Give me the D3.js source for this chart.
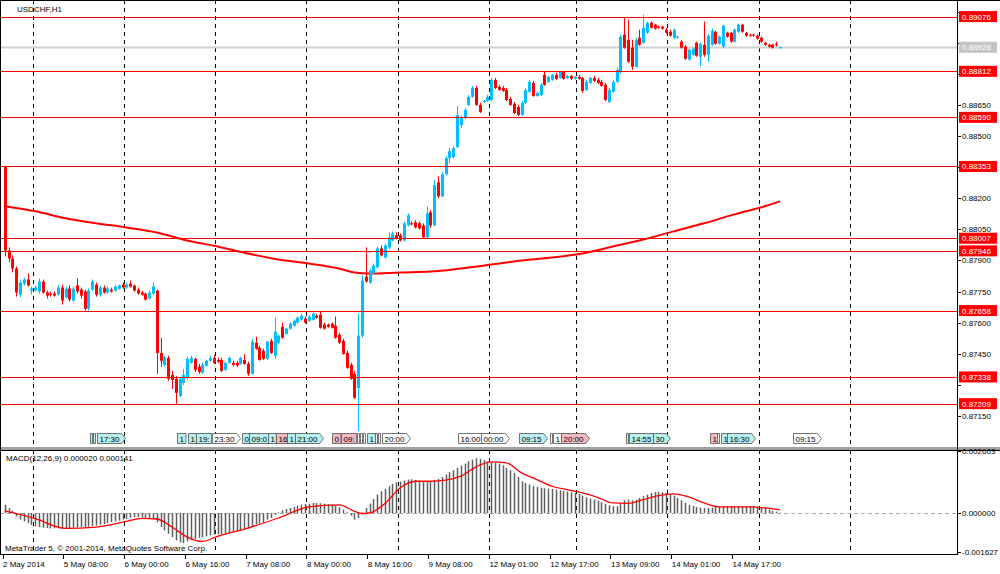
<!DOCTYPE html>
<html>
<head>
<meta charset="utf-8">
<script src="https://d3js.org/d3.v7.min.js"></script>
<style>
body { margin: 0; background: #fff; }
svg { display: block; font-family: "Liberation Sans", Arial, sans-serif; }
</style>
</head>
<body>
<script>
// USDCHF H1 candles, 2 May 2014 16:00 .. 15 May 2014 04:00 (bar index 0..204)
var opens = [0.88350,0.87948,0.87909,0.87861,0.87735,0.87788,0.87808,0.87754,0.87754,0.87750,0.87798,0.87745,0.87740,0.87740,0.87735,0.87769,0.87721,0.87764,0.87706,0.87779,
0.87759,0.87750,0.87667,0.87759,0.87783,0.87735,0.87769,0.87745,0.87759,0.87754,0.87764,0.87783,0.87769,0.87788,0.87779,0.87759,0.87745,0.87740,0.87716,0.87740,
0.87754,0.87454,0.87396,0.87430,0.87348,0.87329,0.87246,0.87309,0.87333,0.87406,0.87425,0.87387,0.87358,0.87392,0.87416,0.87430,0.87420,0.87420,0.87372,0.87406,
0.87406,0.87406,0.87401,0.87420,0.87401,0.87353,0.87503,0.87479,0.87464,0.87425,0.87512,0.87440,0.87503,0.87580,0.87546,0.87571,0.87585,0.87600,0.87614,0.87619,
0.87609,0.87614,0.87633,0.87638,0.87590,0.87590,0.87595,0.87585,0.87541,0.87512,0.87454,0.87396,0.87353,0.87285,0.87537,0.87822,0.87793,0.87837,0.87866,0.87958,
0.87914,0.87963,0.87996,0.88021,0.88021,0.87996,0.88069,0.88079,0.88084,0.88079,0.88069,0.88011,0.88132,0.88069,0.88277,0.88209,0.88316,0.88393,0.88398,0.88447,
0.88553,0.88587,0.88650,0.88689,0.88732,0.88650,0.88664,0.88669,0.88674,0.88771,0.88737,0.88732,0.88722,0.88679,0.88655,0.88640,0.88601,0.88660,0.88713,0.88756,
0.88693,0.88698,0.88795,0.88761,0.88771,0.88795,0.88780,0.88810,0.88780,0.88790,0.88776,0.88785,0.88780,0.88722,0.88756,0.88780,0.88771,0.88761,0.88747,0.88664,
0.88713,0.88761,0.88810,0.88989,0.88964,0.88926,0.88834,0.88974,0.88950,0.88998,0.89047,0.89037,0.89027,0.89027,0.89013,0.89003,0.88974,0.88974,0.88955,0.88931,
0.88868,0.88892,0.88950,0.88882,0.88940,0.88892,0.88940,0.89003,0.88945,0.88931,0.88998,0.88998,0.88955,0.89003,0.89037,0.88998,0.88989,0.88989,0.88984,0.88974,
0.88950,0.88940,0.88940,0.88945,0.88926];
var highs = [0.88355,0.87963,0.87924,0.87871,0.87808,0.87817,0.87837,0.87774,0.87779,0.87813,0.87808,0.87754,0.87750,0.87750,0.87779,0.87783,0.87774,0.87779,0.87774,0.87813,
0.87769,0.87759,0.87764,0.87808,0.87793,0.87779,0.87779,0.87774,0.87769,0.87779,0.87783,0.87793,0.87793,0.87803,0.87783,0.87769,0.87754,0.87745,0.87754,0.87793,
0.87759,0.87527,0.87440,0.87440,0.87367,0.87343,0.87338,0.87377,0.87435,0.87440,0.87430,0.87401,0.87406,0.87420,0.87440,0.87445,0.87430,0.87430,0.87411,0.87435,
0.87416,0.87416,0.87435,0.87449,0.87411,0.87522,0.87532,0.87488,0.87474,0.87512,0.87522,0.87624,0.87541,0.87600,0.87575,0.87600,0.87614,0.87629,0.87643,0.87629,
0.87638,0.87648,0.87643,0.87653,0.87600,0.87595,0.87600,0.87629,0.87551,0.87522,0.87464,0.87406,0.87367,0.87643,0.87827,0.87963,0.87861,0.87885,0.87967,0.87972,
0.87982,0.88035,0.88040,0.88035,0.88030,0.88088,0.88127,0.88088,0.88093,0.88088,0.88079,0.88161,0.88142,0.88287,0.88306,0.88326,0.88403,0.88442,0.88451,0.88645,
0.88597,0.88635,0.88698,0.88742,0.88742,0.88660,0.88674,0.88698,0.88780,0.88780,0.88747,0.88742,0.88732,0.88689,0.88664,0.88650,0.88669,0.88732,0.88771,0.88766,
0.88713,0.88756,0.88814,0.88790,0.88800,0.88805,0.88814,0.88814,0.88795,0.88795,0.88790,0.88795,0.88785,0.88771,0.88785,0.88790,0.88780,0.88771,0.88756,0.88732,
0.88771,0.88829,0.88989,0.89071,0.89061,0.88964,0.88974,0.89013,0.89085,0.89052,0.89052,0.89042,0.89032,0.89032,0.89022,0.89013,0.89018,0.88984,0.88964,0.88940,
0.88921,0.88926,0.88955,0.88950,0.89052,0.88993,0.89018,0.89008,0.88984,0.89037,0.89003,0.89003,0.89018,0.89042,0.89042,0.89003,0.88993,0.88993,0.88989,0.88979,
0.88955,0.88945,0.88945,0.88955,0.88931];
var lows = [0.87919,0.87890,0.87842,0.87725,0.87721,0.87779,0.87774,0.87735,0.87750,0.87740,0.87740,0.87716,0.87725,0.87725,0.87730,0.87687,0.87716,0.87701,0.87701,0.87740,
0.87716,0.87658,0.87658,0.87754,0.87725,0.87725,0.87740,0.87740,0.87745,0.87750,0.87759,0.87764,0.87764,0.87769,0.87750,0.87735,0.87730,0.87706,0.87711,0.87730,
0.87353,0.87387,0.87387,0.87319,0.87280,0.87208,0.87241,0.87299,0.87324,0.87401,0.87362,0.87353,0.87353,0.87387,0.87411,0.87401,0.87406,0.87362,0.87367,0.87401,
0.87392,0.87387,0.87396,0.87396,0.87343,0.87348,0.87469,0.87416,0.87420,0.87420,0.87449,0.87425,0.87493,0.87522,0.87541,0.87566,0.87580,0.87595,0.87609,0.87595,
0.87604,0.87609,0.87619,0.87571,0.87566,0.87575,0.87571,0.87522,0.87498,0.87445,0.87377,0.87324,0.87232,0.87077,0.87527,0.87793,0.87788,0.87832,0.87861,0.87919,
0.87909,0.87953,0.87992,0.88001,0.87992,0.87992,0.88064,0.88069,0.88054,0.88050,0.88006,0.88006,0.88059,0.88064,0.88200,0.88205,0.88311,0.88369,0.88393,0.88442,
0.88538,0.88582,0.88645,0.88684,0.88645,0.88611,0.88660,0.88664,0.88669,0.88727,0.88718,0.88713,0.88669,0.88645,0.88606,0.88597,0.88597,0.88655,0.88708,0.88689,
0.88689,0.88693,0.88742,0.88756,0.88766,0.88771,0.88776,0.88771,0.88776,0.88771,0.88771,0.88771,0.88708,0.88718,0.88751,0.88761,0.88751,0.88737,0.88669,0.88660,
0.88708,0.88756,0.88800,0.88921,0.88853,0.88819,0.88829,0.88935,0.88945,0.88993,0.89018,0.89013,0.89018,0.89013,0.88993,0.88979,0.88969,0.88969,0.88921,0.88868,
0.88863,0.88887,0.88882,0.88834,0.88882,0.88858,0.88935,0.88940,0.88940,0.88926,0.88974,0.88950,0.88950,0.88998,0.88998,0.88979,0.88979,0.88979,0.88964,0.88950,
0.88935,0.88926,0.88921,0.88931,0.88921];
var closes = [0.87948,0.87909,0.87861,0.87745,0.87793,0.87808,0.87779,0.87764,0.87769,0.87798,0.87745,0.87730,0.87735,0.87730,0.87769,0.87706,0.87764,0.87711,0.87764,0.87750,
0.87730,0.87667,0.87754,0.87798,0.87735,0.87769,0.87745,0.87764,0.87750,0.87774,0.87779,0.87769,0.87783,0.87774,0.87754,0.87740,0.87735,0.87711,0.87745,0.87774,
0.87454,0.87416,0.87435,0.87329,0.87324,0.87261,0.87329,0.87348,0.87425,0.87430,0.87372,0.87362,0.87396,0.87416,0.87430,0.87406,0.87411,0.87367,0.87406,0.87430,
0.87396,0.87392,0.87430,0.87401,0.87353,0.87508,0.87474,0.87420,0.87425,0.87508,0.87454,0.87556,0.87537,0.87527,0.87571,0.87595,0.87609,0.87624,0.87633,0.87600,
0.87629,0.87643,0.87624,0.87575,0.87571,0.87580,0.87575,0.87527,0.87503,0.87449,0.87382,0.87329,0.87237,0.87537,0.87803,0.87798,0.87851,0.87875,0.87958,0.87924,
0.87972,0.88011,0.88030,0.88006,0.87996,0.88079,0.88117,0.88074,0.88059,0.88054,0.88011,0.88127,0.88069,0.88263,0.88209,0.88316,0.88393,0.88427,0.88442,0.88601,
0.88587,0.88626,0.88689,0.88732,0.88650,0.88616,0.88669,0.88689,0.88771,0.88732,0.88722,0.88718,0.88674,0.88650,0.88611,0.88601,0.88660,0.88722,0.88761,0.88693,
0.88708,0.88747,0.88747,0.88785,0.88795,0.88776,0.88810,0.88776,0.88790,0.88776,0.88785,0.88776,0.88718,0.88761,0.88780,0.88766,0.88756,0.88742,0.88674,0.88722,
0.88761,0.88819,0.88979,0.88926,0.88858,0.88834,0.88964,0.88940,0.89022,0.89047,0.89022,0.89018,0.89022,0.89018,0.88998,0.88984,0.89013,0.88979,0.88926,0.88872,
0.88916,0.88921,0.88887,0.88945,0.88892,0.88984,0.89008,0.88945,0.88979,0.89032,0.88979,0.88955,0.89013,0.89037,0.89003,0.88984,0.88984,0.88984,0.88969,0.88955,
0.88940,0.88931,0.88926,0.88940,0.88928];

// moving average, read at every 8th bar or so
var maBars = [0,8,16,24,32,40,48,56,64,72,80,88,92,96,104,112,120,128,136,144,152,160,168,176,184,192,200,204];
var maValues = [0.88161,0.88137,0.88103,0.88079,0.88059,0.88035,0.87996,0.87967,0.87933,0.87904,0.87885,0.87861,0.87842,0.87837,0.87842,0.87846,0.87861,0.87880,0.87900,0.87914,0.87933,0.87967,0.88001,0.88040,0.88079,0.88122,0.88161,0.88185];

// MACD(12,26,9) main values (histogram), one per bar
var macdMain = [357e-6,217e-6,105e-6,-133e-6,-273e-6,-343e-6,-413e-6,-497e-6,-553e-6,-581e-6,-609e-6,-623e-6,-637e-6,-637e-6,-637e-6,-623e-6,-623e-6,-623e-6,-609e-6,-595e-6,
-581e-6,-581e-6,-567e-6,-539e-6,-511e-6,-483e-6,-455e-6,-413e-6,-371e-6,-343e-6,-315e-6,-273e-6,-245e-6,-189e-6,-161e-6,-161e-6,-175e-6,-203e-6,-217e-6,-245e-6,
-385e-6,-581e-6,-721e-6,-861e-6,-1001e-6,-1141e-6,-1225e-6,-1253e-6,-1183e-6,-1113e-6,-1071e-6,-1029e-6,-1001e-6,-973e-6,-931e-6,-903e-6,-889e-6,-875e-6,-847e-6,-805e-6,
-777e-6,-749e-6,-707e-6,-665e-6,-637e-6,-525e-6,-483e-6,-441e-6,-399e-6,-273e-6,-203e-6,-63e-6,35e-6,119e-6,175e-6,217e-6,259e-6,315e-6,357e-6,385e-6,
399e-6,427e-6,427e-6,413e-6,399e-6,385e-6,357e-6,315e-6,245e-6,147e-6,35e-6,-105e-6,-273e-6,-203e-6,35e-6,217e-6,399e-6,595e-6,777e-6,917e-6,
1015e-6,1127e-6,1225e-6,1295e-6,1323e-6,1365e-6,1407e-6,1421e-6,1393e-6,1365e-6,1337e-6,1337e-6,1337e-6,1379e-6,1435e-6,1519e-6,1617e-6,1715e-6,1799e-6,1897e-6,
1995e-6,2079e-6,2177e-6,2247e-6,2303e-6,2275e-6,2219e-6,2163e-6,2135e-6,2107e-6,2079e-6,1995e-6,1897e-6,1799e-6,1687e-6,1519e-6,1337e-6,1267e-6,1197e-6,1127e-6,
1099e-6,1071e-6,1043e-6,1029e-6,1015e-6,987e-6,959e-6,931e-6,903e-6,875e-6,847e-6,805e-6,735e-6,665e-6,609e-6,567e-6,511e-6,455e-6,385e-6,329e-6,
287e-6,287e-6,427e-6,539e-6,567e-6,539e-6,567e-6,637e-6,707e-6,777e-6,847e-6,889e-6,889e-6,875e-6,847e-6,805e-6,735e-6,637e-6,539e-6,427e-6,
357e-6,301e-6,259e-6,231e-6,217e-6,217e-6,231e-6,245e-6,259e-6,273e-6,287e-6,287e-6,287e-6,287e-6,287e-6,287e-6,287e-6,287e-6,273e-6,245e-6,
203e-6,147e-6,105e-6,63e-6,20e-6];

// MACD signal line, read at knots
var signalBars = [0,8,16,24,32,36,40,44,48,52,56,64,72,80,88,92,94,96,100,104,108,112,116,120,124,128,132,136,140,144,148,152,156,160,164,168,172,176,180,184,188,192,196,200,204];
var signalValues = [91e-6,-231e-6,-637e-6,-581e-6,-343e-6,-217e-6,-245e-6,-581e-6,-1001e-6,-1183e-6,-973e-6,-623e-6,-203e-6,259e-6,343e-6,77e-6,-21e-6,7e-6,399e-6,1057e-6,1337e-6,1337e-6,1379e-6,1547e-6,1939e-6,2149e-6,2107e-6,1687e-6,1407e-6,1127e-6,987e-6,847e-6,665e-6,427e-6,413e-6,567e-6,735e-6,805e-6,679e-6,427e-6,259e-6,259e-6,259e-6,217e-6,141e-6];

// horizontal levels and current price
var levels = [0.89076,0.88812,0.88590,0.88353,0.88007,0.87946,0.87658,0.87338,0.87209];
var lastPrice = 0.88928;

// axes
var priceTicks = [0.89100,0.88950,0.88800,0.88650,0.88500,0.88350,0.88200,0.88050,0.87900,0.87750,0.87600,0.87450,0.87300,0.87150];
var macdTicks = [0.002603,0,-0.001627];
var macdTickLabels = ["0.002603","0.000000","-0.001627"];
var timeBars = [0,16,32,48,64,80,96,112,128,144,160,176,192];
var timeLabels = ["2 May 2014","5 May 08:00","6 May 00:00","6 May 16:00","7 May 08:00","8 May 00:00","8 May 16:00","9 May 08:00","12 May 01:00","12 May 17:00","13 May 09:00","14 May 01:00","14 May 17:00"];
var gridBars = [8,32,56,80,104,128,151,175,199,223];

// calendar events along the bottom of the price window
var eventBars = [22.4,23.2,24.3,45.3,48.2,50.3,54.5,62.4,64.3,69.3,71.4,74.3,76.4,86.1,88.5,92.7,93.5,94.3,95.3,97.4,98.2,99.3,119.3,125.3,135.3,143.5,144.3,146.4,163.5,164.3,170.6,185.6,187.4,188.5,190.1,207.4];
var eventTexts = ["","","17:30","1","1","19:","23:30","0","09:0","1","16","1","21:00","0","09:","","","","1","","","20:00","16:00","00:00","09:15","","1","20:00","","14:55","30","1","","1","16:30","09:15"];
var eventKinds = ["c","c","c","c","c","c","w","c","c","c","p","c","c","p","p","w","w","w","c","w","w","w","w","w","c","w","w","p","c","c","c","p","w","c","c","w"];
var eventArrow = [0,0,1,0,0,0,1,0,0,0,0,0,1,0,0,0,0,0,0,0,0,1,0,1,1,0,0,1,0,0,1,0,0,0,1,1];

window.onload = function() {
  var axisX = 957;
  var mainBottom = 447, macdTop = 450, macdBottom = 554;
  var bullColor = "#00bfff", bearColor = "#ff0000";

  var svg = d3.select("body").append("svg").attr("width", 1000).attr("height", 574);

  // scales
  var x = d3.scaleLinear().domain([0, 204]).range([4.8, 4.8 + 3.8 * 204]);
  var y = d3.scaleLinear().domain([0.87000, 0.89156]).range([mainBottom, 0]);
  var ym = d3.scaleLinear().domain([-0.001627, 0.002603]).range([552, 451]);
  var gridShift = -2.3;  // grid/tick sits just left of the bar centre
  function crisp(v) { return Math.round(v) + 0.5; }

  var defs = svg.append("defs");
  defs.append("clipPath").attr("id", "clipMain").append("rect")
      .attr("x", 1).attr("y", 1).attr("width", axisX - 1).attr("height", mainBottom - 1);
  defs.append("clipPath").attr("id", "clipMacd").append("rect")
      .attr("x", 1).attr("y", macdTop + 1).attr("width", axisX - 1).attr("height", macdBottom - macdTop - 1);

  var main = svg.append("g").attr("clip-path", "url(#clipMain)");
  var macd = svg.append("g").attr("clip-path", "url(#clipMacd)");

  //Vertical dashed grid in both windows
  [[main, 0, mainBottom], [macd, macdTop, macdBottom]].forEach(function(p) {
    p[0].selectAll("line.grid").data(gridBars).enter().append("line")
      .attr("class", "grid")
      .attr("x1", function(d) { return crisp(x(d) + gridShift); })
      .attr("x2", function(d) { return crisp(x(d) + gridShift); })
      .attr("y1", p[1]).attr("y2", p[2])
      .attr("stroke", "#000").attr("stroke-width", 1).attr("stroke-dasharray", "4,4");
  });

  //Current price line (grey)
  main.append("line").attr("x1", 0).attr("x2", axisX)
      .attr("y1", crisp(y(lastPrice))).attr("y2", crisp(y(lastPrice)))
      .attr("stroke", "#d0d0d0").attr("stroke-width", 2);

  //Moving average
  var maData = maBars.map(function(b, i) { return { b: b, v: maValues[i] }; });
  main.append("path").datum(maData)
      .attr("d", d3.line().x(function(d) { return x(d.b); }).y(function(d) { return y(d.v); }).curve(d3.curveMonotoneX))
      .attr("fill", "none").attr("stroke", "#ff0000").attr("stroke-width", 2);

  //Candles
  var candles = main.selectAll("g.candle").data(opens).enter().append("g").attr("class", "candle");
  candles.append("line")
      .attr("x1", function(d, i) { return crisp(x(i)); })
      .attr("x2", function(d, i) { return crisp(x(i)); })
      .attr("y1", function(d, i) { return y(highs[i]); })
      .attr("y2", function(d, i) { return y(lows[i]); })
      .attr("stroke", function(d, i) { return closes[i] >= d ? bullColor : bearColor; })
      .attr("stroke-width", 1);
  candles.append("rect")
      .attr("x", function(d, i) { return crisp(x(i)) - 1.5; })
      .attr("width", 3)
      .attr("y", function(d, i) { return Math.min(y(d), y(closes[i])); })
      .attr("height", function(d, i) { return Math.max(1, Math.abs(y(d) - y(closes[i]))); })
      .attr("fill", function(d, i) { return closes[i] >= d ? bullColor : bearColor; });

  //Horizontal levels
  main.selectAll("line.level").data(levels).enter().append("line")
      .attr("class", "level")
      .attr("x1", 0).attr("x2", axisX)
      .attr("y1", function(d) { return crisp(y(d)); })
      .attr("y2", function(d) { return crisp(y(d)); })
      .attr("stroke", "#ff0000").attr("stroke-width", 1.2);

  //Event labels
  var fills = { c: "#b8f0f0", p: "#f4b8c0", w: "#ffffff" };
  eventBars.forEach(function(b, i) {
    var g = main.append("g");
    var left = Math.round(x(b)) + 0.5, top = 433.5, h = 10;
    var t = g.append("text").text(eventTexts[i]).attr("x", left + 2).attr("y", top + 8)
        .attr("font-size", "8px").attr("fill", "#000");
    var tw = eventTexts[i] ? t.node().getComputedTextLength() + 4 : 2;
    var a = eventArrow[i] ? 4 : 0;
    var r = left + tw;
    g.insert("path", "text")
        .attr("d", "M" + left + "," + top + "H" + r + "L" + (r + a) + "," + (top + h / 2) + "L" + r + "," + (top + h) + "H" + left + "Z")
        .attr("fill", fills[eventKinds[i]]).attr("stroke", "#505050").attr("stroke-width", 0.8);
  });

  //Title
  svg.append("text").text("USDCHF,H1").attr("x", 17).attr("y", 12).attr("font-size", "8px").attr("fill", "#000");

  //MACD window
  macd.append("line").attr("x1", 0).attr("x2", axisX)
      .attr("y1", crisp(ym(0))).attr("y2", crisp(ym(0)))
      .attr("stroke", "#a8a8a8").attr("stroke-dasharray", "4,3");
  macd.selectAll("line.hist").data(macdMain).enter().append("line")
      .attr("class", "hist")
      .attr("x1", function(d, i) { return crisp(x(i)); })
      .attr("x2", function(d, i) { return crisp(x(i)); })
      .attr("y1", ym(0))
      .attr("y2", function(d) { return ym(d); })
      .attr("stroke", "#5e5e5e").attr("stroke-width", 1.5);
  var sigData = signalBars.map(function(b, i) { return { b: b, v: signalValues[i] }; });
  macd.append("path").datum(sigData)
      .attr("d", d3.line().x(function(d) { return x(d.b); }).y(function(d) { return ym(d.v); }).curve(d3.curveMonotoneX))
      .attr("fill", "none").attr("stroke", "#ff0000").attr("stroke-width", 1.3);
  svg.append("text").text("MACD(12,26,9) 0.000020 0.000141").attr("x", 6).attr("y", 461)
      .attr("font-size", "8px").attr("fill", "#000");
  svg.append("text").text("MetaTrader 5, \u00a9 2001-2014, MetaQuotes Software Corp.").attr("x", 5).attr("y", 551)
      .attr("font-size", "8px").attr("fill", "#000");

  //Frames
  svg.append("rect").attr("x", 0).attr("y", mainBottom).attr("width", 1000).attr("height", 3).attr("fill", "#a0a0a0");
  svg.append("line").attr("x1", 0).attr("x2", 1000).attr("y1", 0.5).attr("y2", 0.5).attr("stroke", "#000");
  svg.append("line").attr("x1", 0.5).attr("x2", 0.5).attr("y1", 0).attr("y2", macdBottom).attr("stroke", "#000");
  svg.append("line").attr("x1", 0).attr("x2", 1000).attr("y1", macdTop + 0.5).attr("y2", macdTop + 0.5).attr("stroke", "#000");
  svg.append("line").attr("x1", 0).attr("x2", axisX).attr("y1", macdBottom + 0.5).attr("y2", macdBottom + 0.5).attr("stroke", "#000");
  svg.append("line").attr("x1", axisX + 0.5).attr("x2", axisX + 0.5).attr("y1", 0).attr("y2", macdBottom + 1).attr("stroke", "#000");

  //Price axis: tick labels hidden behind a level box are left out
  var boxValues = levels.concat([lastPrice]);
  var freeTicks = priceTicks.filter(function(t) {
    return !boxValues.some(function(v) { return Math.abs(y(v) - y(t)) < 8; });
  });
  var pa = svg.append("g");
  pa.selectAll("line").data(priceTicks).enter().append("line")
      .attr("x1", axisX).attr("x2", axisX + 4)
      .attr("y1", function(d) { return crisp(y(d)); }).attr("y2", function(d) { return crisp(y(d)); })
      .attr("stroke", "#000");
  pa.selectAll("text").data(freeTicks).enter().append("text")
      .text(function(d) { return d.toFixed(5); })
      .attr("x", axisX + 5).attr("y", function(d) { return y(d) + 3; })
      .attr("font-size", "8px").attr("fill", "#000");

  //Level boxes on the price axis
  var boxes = levels.map(function(v) { return { v: v, fill: "#ff0000" }; });
  boxes.push({ v: lastPrice, fill: "#c4c4c4" });
  var lb = svg.selectAll("g.lbox").data(boxes).enter().append("g").attr("class", "lbox");
  lb.append("rect").attr("x", axisX + 2).attr("width", 38)
      .attr("y", function(d) { return y(d.v) - 5.5; }).attr("height", 11)
      .attr("fill", function(d) { return d.fill; });
  lb.append("text").text(function(d) { return d.v.toFixed(5); })
      .attr("x", axisX + 5).attr("y", function(d) { return y(d.v) + 3; })
      .attr("font-size", "8px").attr("fill", "#fff");

  //MACD axis
  var ma = svg.append("g");
  ma.selectAll("line").data(macdTicks).enter().append("line")
      .attr("x1", axisX).attr("x2", axisX + 4)
      .attr("y1", function(d) { return crisp(ym(d)); }).attr("y2", function(d) { return crisp(ym(d)); })
      .attr("stroke", "#000");
  ma.selectAll("text").data(macdTicks).enter().append("text")
      .text(function(d, i) { return macdTickLabels[i]; })
      .attr("x", axisX + 5).attr("y", function(d) { return ym(d) + 3; })
      .attr("font-size", "8px").attr("fill", "#000");

  //Time axis
  var ta = svg.append("g");
  ta.selectAll("line").data(timeBars).enter().append("line")
      .attr("x1", function(d) { return crisp(x(d) + gridShift); })
      .attr("x2", function(d) { return crisp(x(d) + gridShift); })
      .attr("y1", macdBottom).attr("y2", macdBottom + 5)
      .attr("stroke", "#000");
  ta.selectAll("text").data(timeBars).enter().append("text")
      .text(function(d, i) { return timeLabels[i]; })
      .attr("x", function(d) { return x(d) + gridShift + 0.5; })
      .attr("y", 567)
      .attr("font-size", "8px").attr("fill", "#000");
};
</script>
</body>
</html>
